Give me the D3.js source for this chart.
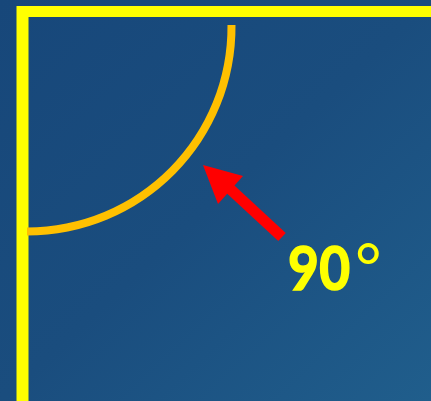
<!DOCTYPE html>
<html>
<head>
<meta charset="utf-8">
<script src="https://cdn.jsdelivr.net/npm/d3@7"></script>
<style>
  html, body { margin: 0; padding: 0; overflow: hidden; }
</style>
</head>
<body>
<div id="chart"></div>
<script>
// angle shown, in degrees
var angleRange = [0, 90];
var angleLabel = ["90", "°"];
// the two arms of the angle: [x1, y1, x2, y2] in unit coords of the corner frame
var arms = [[0, 0, 1, 0], [0, 0, 0, 1]];

const width = 431, height = 401;

var svg = d3.select("#chart").append("svg")
  .attr("width", width)
  .attr("height", height);

var defs = svg.append("defs");
var grad = defs.append("linearGradient")
  .attr("id", "bg")
  .attr("x1", "0").attr("y1", "0")
  .attr("x2", "1").attr("y2", "1");
grad.append("stop").attr("offset", "0").attr("stop-color", "#17477a");
grad.append("stop").attr("offset", "0.5").attr("stop-color", "#1a4d7e");
grad.append("stop").attr("offset", "1").attr("stop-color", "#205e8c");

svg.append("rect")
  .attr("width", width)
  .attr("height", height)
  .attr("fill", "url(#bg)");

// corner of the angle
const cx = 27, cy = 27;
const radius = 204.5;

var xs = d3.scaleLinear().domain([0, 1]).range([22.5, width + 10]);
var ys = d3.scaleLinear().domain([0, 1]).range([11.5, height + 10]);

svg.selectAll("line.arm")
  .data(arms)
  .enter()
  .append("line")
  .attr("class", "arm")
  .attr("x1", (d, i) => i === 0 ? 17 : xs(d[0]))
  .attr("y1", (d, i) => i === 0 ? ys(d[1]) : 6)
  .attr("x2", d => xs(d[2]))
  .attr("y2", d => ys(d[3]))
  .attr("stroke", "#ffff00")
  .attr("stroke-width", (d, i) => i === 0 ? 11 : 12);

// angle scale: degrees -> radians, 0 = pointing right, 90 = pointing down
var angleScale = d3.scaleLinear().domain([0, 90]).range([Math.PI / 2, Math.PI]);

var arc = d3.arc()
  .innerRadius(radius - 4)
  .outerRadius(radius + 4)
  .startAngle(d => angleScale(d[0]) - 0.01)
  .endAngle(d => angleScale(d[1]));

svg.append("path")
  .datum(angleRange)
  .attr("transform", `translate(${cx},${cy})`)
  .attr("d", arc)
  .attr("fill", "#ffc000");

// red arrow
var arrow = svg.append("g");
arrow.append("line")
  .attr("x1", 282).attr("y1", 237)
  .attr("x2", 228).attr("y2", 187)
  .attr("stroke", "#ff0000")
  .attr("stroke-width", 11);
arrow.append("polygon")
  .attr("points", [[203, 165], [243, 176], [218, 204]].map(p => p.join(",")).join(" "))
  .attr("fill", "#ff0000");

// the label: digits squeezed a little, degree ring drawn lighter
svg.append("text")
  .attr("class", "label")
  .attr("transform", "translate(288,290) scale(0.86,1)")
  .attr("fill", "#ffff00")
  .attr("stroke", "#ffff00")
  .attr("stroke-width", 1.6)
  .attr("font-family", "Lato, 'Open Sans', sans-serif")
  .attr("font-weight", "bold")
  .attr("font-size", 62)
  .attr("letter-spacing", 0.5)
  .text(angleLabel[0]);

svg.append("text")
  .attr("class", "label")
  .attr("x", 355)
  .attr("y", 290)
  .attr("fill", "#ffff00")
  .attr("font-family", "Lato, 'Open Sans', sans-serif")
  .attr("font-weight", "normal")
  .attr("font-size", 64)
  .text(angleLabel[1]);
</script>
</body>
</html>
